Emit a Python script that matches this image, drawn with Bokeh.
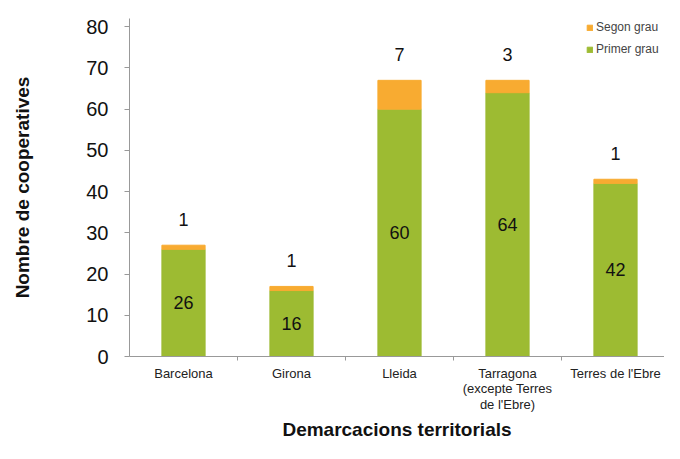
from bokeh.plotting import figure
from bokeh.models import ColumnDataSource, Range1d, FixedTicker, LabelSet, Legend, LegendItem
from bokeh.core.properties import value
from bokeh.embed import file_html
from bokeh.resources import INLINE

categories = ["Barcelona", "Girona", "Lleida", "Tarragona\n(excepte Terres\nde l'Ebre)", "Terres de l'Ebre"]
primer_grau = [26, 16, 60, 64, 42]
segon_grau = [1, 1, 7, 3, 1]
y_ticks = [0, 10, 20, 30, 40, 50, 60, 70, 80]

GREEN = "#9dbb32"
ORANGE = "#f8ab31"
FONT = "Liberation Sans"

xs = list(range(len(categories)))
src = ColumnDataSource(dict(
    x=xs,
    primer=primer_grau,
    segon=segon_grau,
    total=[a + b for a, b in zip(primer_grau, segon_grau)],
    mid=[a / 2 for a in primer_grau],
    primer_txt=[str(v) for v in primer_grau],
    segon_txt=[str(v) for v in segon_grau],
))

W, H = 664, 443
LEFT, TOP, BOTTOM = 129, 18, 80
step = 108.0
p = figure(width=W, height=H, output_backend="svg", toolbar_location=None,
           x_range=Range1d(-0.5, -0.5 + (W - LEFT) / step), y_range=Range1d(0, 82),
           min_border_left=LEFT, min_border_right=0, min_border_top=TOP, min_border_bottom=BOTTOM)
p.outline_line_color = None
p.xgrid.visible = False
p.ygrid.visible = False

r = p.vbar_stack(["primer", "segon"], x="x", width=0.4, color=[GREEN, ORANGE], source=src)

p.add_layout(LabelSet(x="x", y="mid", text="primer_txt", source=src, text_align="center",
                      text_baseline="middle", text_font_size="18px", text_font=value(FONT),
                      text_color="#111111"))
p.add_layout(LabelSet(x="x", y="total", text="segon_txt", source=src, text_align="center",
                      text_baseline="middle", text_font_size="18px", text_font=value(FONT),
                      text_color="#111111", y_offset=26))

legend = Legend(items=[LegendItem(label="Segon grau", renderers=[r[1]]),
                       LegendItem(label="Primer grau", renderers=[r[0]])],
                location=(457, 297), label_text_font=FONT, label_text_font_size="12px",
                glyph_width=7, glyph_height=7, spacing=2, padding=0, margin=0,
                label_standoff=3, label_height=20, border_line_color=None, background_fill_alpha=0)
p.add_layout(legend)

# x axis
p.xaxis.ticker = FixedTicker(ticks=xs, minor_ticks=[0.5, 1.5, 2.5, 3.5])
p.xaxis.major_label_overrides = {i: c for i, c in enumerate(categories)}
p.xaxis.major_tick_line_color = None
p.xaxis.major_tick_out = 4
p.xaxis.minor_tick_out = 4
p.xaxis.minor_tick_in = 0
p.xaxis.minor_tick_line_color = "#999999"
p.xaxis.axis_line_color = "#999999"
p.xaxis.major_label_text_font = FONT
p.xaxis.major_label_text_font_size = "13px"
p.xaxis.major_label_text_line_height = 1.05
p.xaxis.major_label_text_color = "#222222"
p.xaxis.major_label_standoff = 5
p.xaxis.axis_label = "Demarcacions territorials"
p.xaxis.axis_label_text_font = FONT
p.xaxis.axis_label_text_font_style = "bold"
p.xaxis.axis_label_text_font_size = "19px"
p.xaxis.axis_label_text_color = "#111111"
p.xaxis.axis_label_standoff = 4

# y axis
p.yaxis.ticker = FixedTicker(ticks=y_ticks, minor_ticks=[])
p.yaxis.axis_line_color = "#999999"
p.yaxis.major_tick_line_color = "#999999"
p.yaxis.major_tick_out = 5
p.yaxis.major_tick_in = 0
p.yaxis.major_label_text_font = FONT
p.yaxis.major_label_text_font_size = "20px"
p.yaxis.major_label_text_color = "#111111"
p.yaxis.major_label_standoff = 16
p.yaxis.axis_label = "Nombre de cooperatives"
p.yaxis.axis_label_text_font = FONT
p.yaxis.axis_label_text_font_style = "bold"
p.yaxis.axis_label_text_font_size = "19px"
p.yaxis.axis_label_text_color = "#111111"
p.yaxis.axis_label_standoff = 50

open("out.html", "w").write(file_html(p, INLINE))
